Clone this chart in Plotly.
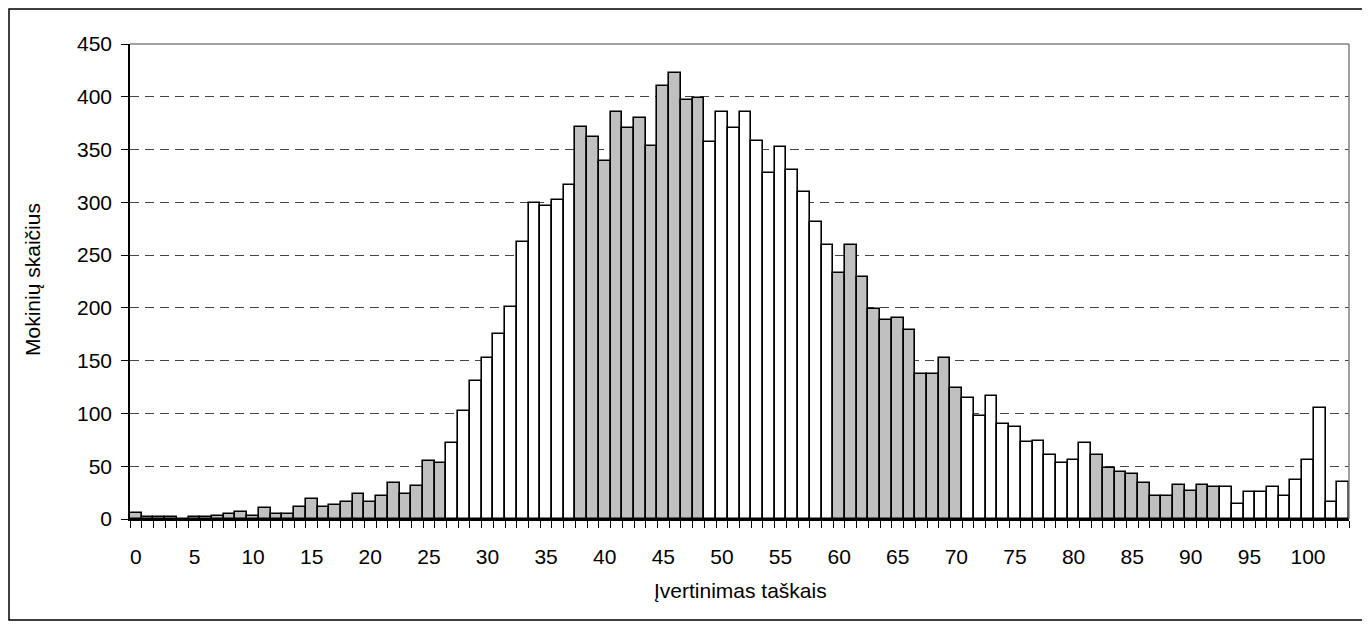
import plotly.graph_objects as go

# Score categories 0..103
scores = list(range(0, 104))

# Number of students for each score
counts = [
    6, 2, 2, 2, 0, 2, 2, 3, 5, 7,
    3, 10, 5, 5, 11, 19, 11, 13, 16, 24,
    16, 22, 34, 24, 31, 55, 53, 72, 102, 131,
    153, 175, 201, 262, 299, 297, 302, 316, 371, 362,
    339, 386, 370, 380, 353, 410, 423, 397, 399, 357,
    386, 370, 386, 358, 328, 352, 331, 310, 281, 260,
    233, 260, 229, 199, 189, 190, 179, 137, 137, 153,
    124, 115, 98, 117, 90, 87, 73, 74, 61, 53,
    56, 72, 61, 48, 45, 43, 34, 22, 22, 32,
    27, 32, 30, 30, 14, 26, 26, 30, 22, 37,
    56, 105, 16, 35,
]

# Score intervals drawn as shaded (grey) bars
shaded_ranges = [(0, 26), (38, 48), (60, 70), (82, 92)]

x_tick_values = list(range(0, 101, 5))
x_tick_labels = [str(v) for v in x_tick_values]
y_tick_values = list(range(0, 451, 50))

x_title = "Įvertinimas taškais"
y_title = "Mokinių skaičius"

GREY = "#C0C0C0"
WHITE = "#FFFFFF"


def is_shaded(s):
    return any(a <= s <= b for a, b in shaded_ranges)


colors = [GREY if is_shaded(s) else WHITE for s in scores]

fig = go.Figure()
fig.add_trace(go.Bar(
    x=scores,
    y=counts,
    marker=dict(color=colors, line=dict(color="#000000", width=1.6)),
    width=1.0,
    hoverinfo="x+y",
))

FONT = "Liberation Sans, Arial, sans-serif"
FS = 21

# page is offset by the 8px body margin; figure is sized to fit 1370x625
W, H = 1362, 617
L, T = 122, 36
PW, PH = 1219, 475
R = W - L - PW
B = H - T - PH


def px_x(fx):
    return (fx - L) / PW


def px_y(fy):
    return (T + PH - fy) / PH


fig.update_layout(
    width=W,
    height=H,
    margin=dict(l=L, r=R, t=T, b=B),
    paper_bgcolor="#FFFFFF",
    plot_bgcolor="#FFFFFF",
    bargap=0,
    showlegend=False,
    font=dict(family=FONT, size=FS, color="#000000"),
    xaxis=dict(
        range=[-0.5, 103.5],
        tickmode="array",
        tickvals=x_tick_values,
        ticktext=x_tick_labels,
        ticks="outside",
        ticklen=7,
        tickcolor="rgba(0,0,0,0)",
        ticklabelstandoff=11,
        showgrid=False,
        zeroline=False,
        showline=True,
        linecolor="#000000",
        linewidth=1.5,
        tickfont=dict(family=FONT, size=FS, color="#000000"),
        minor=dict(
            tick0=-0.5,
            dtick=1,
            ticks="outside",
            ticklen=7,
            tickwidth=1,
            tickcolor="#000000",
            showgrid=False,
        ),
    ),
    yaxis=dict(
        range=[0, 450],
        tickmode="array",
        tickvals=y_tick_values,
        ticks="outside",
        ticklen=7,
        tickwidth=1,
        tickcolor="#000000",
        ticklabelstandoff=5,
        showgrid=True,
        gridcolor="#444444",
        gridwidth=1,
        griddash="9px,6px",
        zeroline=False,
        showline=True,
        linecolor="#000000",
        linewidth=1.5,
        tickfont=dict(family=FONT, size=FS, color="#000000"),
    ),
    shapes=[
        # plot-area frame (top / right grey)
        dict(type="line", xref="paper", yref="paper", x0=0, x1=1, y0=1, y1=1,
             line=dict(color="#808080", width=1.5), layer="above"),
        dict(type="line", xref="paper", yref="paper", x0=1, x1=1, y0=0, y1=1,
             line=dict(color="#808080", width=1.5), layer="above"),
        # outer chart border
        dict(type="rect", xref="paper", yref="paper",
             x0=px_x(1), x1=px_x(1358),
             y0=px_y(612), y1=px_y(1),
             line=dict(color="#000000", width=1.5), fillcolor="rgba(0,0,0,0)",
             layer="above"),
    ],
    annotations=[
        dict(text=x_title, xref="paper", yref="paper",
             x=px_x(732), y=px_y(582),
             xanchor="center", yanchor="middle", showarrow=False,
             font=dict(family=FONT, size=FS, color="#000000")),
        dict(text=y_title, xref="paper", yref="paper",
             x=px_x(24), y=px_y(272), textangle=-90,
             xanchor="center", yanchor="middle", showarrow=False,
             font=dict(family=FONT, size=FS, color="#000000")),
    ],
)

fig.write_html("out.html")
